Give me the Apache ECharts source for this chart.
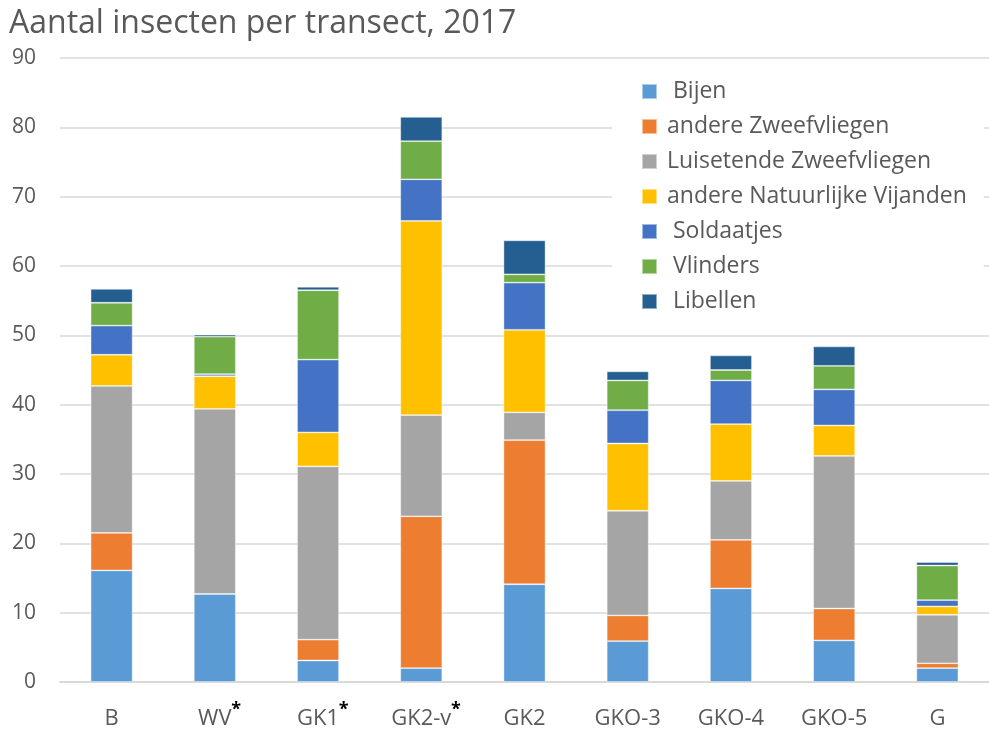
<!DOCTYPE html>
<html>
<head>
<meta charset="utf-8">
<script src="https://cdn.jsdelivr.net/npm/echarts@6/dist/echarts.min.js"></script>
<style>
  html, body { margin: 0; padding: 0; background: #fff; }
  #chart { width: 989px; height: 730px; }
</style>
</head>
<body>
<div id="chart"></div>
<script>
// transects, bottom to top stack per series
var categories = ['B', 'WV', 'GK1', 'GK2-v', 'GK2', 'GKO-3', 'GKO-4', 'GKO-5', 'G']
var starred = ['WV', 'GK1', 'GK2-v']

var bijen = [16.1, 12.7, 3.1, 2.0, 14.1, 5.9, 13.5, 6.0, 2.0]
var andereZweefvliegen = [5.4, 0, 3.0, 21.9, 20.8, 3.7, 7.0, 4.6, 0.7]
var luisetendeZweefvliegen = [21.2, 26.7, 25.0, 14.6, 4.0, 15.1, 8.5, 22.0, 7.0]
var natuurlijkeVijanden = [4.5, 4.7, 4.9, 28.0, 11.9, 9.7, 8.2, 4.4, 1.2]
var soldaatjes = [4.2, 0.3, 10.5, 6.0, 6.8, 4.8, 6.3, 5.2, 0.9]
var vlinders = [3.3, 5.4, 10.0, 5.5, 1.2, 4.3, 1.5, 3.4, 5.0]
var libellen = [2.0, 0.3, 0.5, 3.5, 4.9, 1.3, 2.1, 2.8, 0.5]

var yTicks = { min: 0, max: 90, interval: 10 }

var seriesDefs = [
  { name: ' Bijen', data: bijen, color: '#5b9bd5' },
  { name: 'andere Zweefvliegen', data: andereZweefvliegen, color: '#ed7d31' },
  { name: 'Luisetende Zweefvliegen', data: luisetendeZweefvliegen, color: '#a5a5a5' },
  { name: 'andere Natuurlijke Vijanden', data: natuurlijkeVijanden, color: '#ffc000' },
  { name: ' Soldaatjes', data: soldaatjes, color: '#4472c4' },
  { name: ' Vlinders', data: vlinders, color: '#70ad47' },
  { name: ' Libellen', data: libellen, color: '#255e91' }
]

var font = 'Open Sans'
var chart = echarts.init(document.getElementById('chart'))

chart.setOption({
  animation: false,
  textStyle: { fontFamily: font },
  title: {
    text: 'Aantal insecten per transect, 2017',
    left: 4,
    top: 3,
    textStyle: {
      color: '#595959',
      fontFamily: font,
      fontSize: 32,
      fontWeight: 'normal'
    }
  },
  legend: {
    orient: 'vertical',
    left: 612,
    top: 75,
    padding: [5, 17, 5, 29],
    backgroundColor: '#fff',
    itemWidth: 15,
    itemHeight: 15,
    itemGap: 12,
    icon: 'rect',
    textStyle: {
      color: '#595959',
      fontSize: 23,
      fontFamily: font,
      padding: [0, 0, 0, 5]
    }
  },
  grid: {
    left: 60,
    top: 58,
    width: 940,
    height: 625
  },
  xAxis: {
    type: 'category',
    data: categories,
    axisLine: { lineStyle: { color: '#d9d9d9', width: 2 } },
    axisTick: { show: false },
    axisLabel: {
      interval: 0,
      margin: 19,
      // the asterisk hangs to the right like a superscript, name stays centred
      formatter: function (v) {
        return starred.indexOf(v) >= 0 ? '{p|}{a|' + v + '}{s|*}' : '{a|' + v + '}'
      },
      rich: {
        p: { width: 9, lineHeight: 36 },
        a: { color: '#595959', fontSize: 22, lineHeight: 36, fontFamily: font },
        s: { color: '#000', fontSize: 18, fontWeight: 'bold', lineHeight: 2, width: 9, verticalAlign: 'top', fontFamily: font }
      }
    }
  },
  yAxis: {
    type: 'value',
    min: yTicks.min,
    max: yTicks.max,
    interval: yTicks.interval,
    axisLine: { show: false },
    axisTick: { show: false },
    splitLine: { lineStyle: { color: '#d9d9d9', width: 1.5 } },
    axisLabel: {
      color: '#595959',
      fontSize: 21,
      margin: 24,
      fontFamily: font
    }
  },
  series: seriesDefs.map(function (s) {
    return {
      name: s.name,
      type: 'bar',
      stack: 'total',
      data: s.data,
      barWidth: 42,
      itemStyle: {
        color: s.color,
        borderColor: 'rgba(255,255,255,0.5)',
        borderWidth: 0.8
      }
    }
  })
})
</script>
</body>
</html>
